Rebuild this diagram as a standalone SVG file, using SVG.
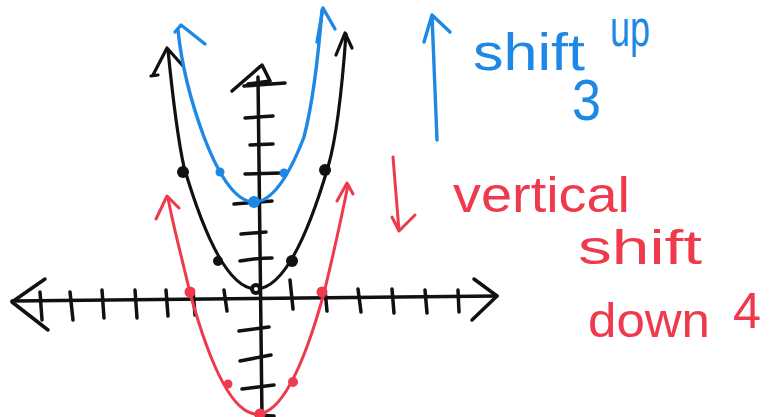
<svg xmlns="http://www.w3.org/2000/svg" width="776" height="417" viewBox="0 0 776 417">
<style>
.ax{fill:none;stroke:#111;stroke-width:3.5;stroke-linecap:round;stroke-linejoin:round}
.bk{fill:none;stroke:#111;stroke-width:3.2;stroke-linecap:round;stroke-linejoin:round}
.bl{fill:none;stroke:#1E88E5;stroke-width:3.4;stroke-linecap:round;stroke-linejoin:round}
.rd{fill:none;stroke:#EE3A4C;stroke-width:3;stroke-linecap:round;stroke-linejoin:round}
.tb{fill:#1E88E5;font-family:"Liberation Sans",Arial,sans-serif}
.tr{fill:#EE3A4C;font-family:"Liberation Sans",Arial,sans-serif}
</style>
<rect width="776" height="417" fill="#fff"/>
<g id="axes">
<path class="ax" d="M12,301 L497,296"/>
<path class="ax" d="M45,279 L12,302 L48,330"/>
<path class="ax" d="M474,279 L497,296 L472,320"/>
<path class="ax" d="M258,77 L262,417"/>
<path class="ax" d="M232,91 L262,65 L270,81 L248,84"/>
<g id="xticks">
<path class="ax" d="M40,292 L42,320 M70,292 L73,320 M102,290 L104,318 M135,290 L137,318 M166,290 L168,316 M193,290 L195,315 M224,290 L227,311 M290,280 L293,309 M325,290 L327,311 M358,289 L361,312 M392,289 L394,313 M425,290 L427,313 M458,290 L459,312"/>
</g>
<g id="yticks">
<path class="ax" d="M244,86 L285,83 M245,118 L273,116 M250,145 L273,144 M245,174 L281,173 M234,204 L272,201 M241,234 L266,232 M240,261 Q258,258 272,258 M239,331 L269,327 M240,361 L271,355 M242,389 L274,385 M256,415 L274,416"/>
</g>
</g>
<g id="parabola-black">
<path class="bk" d="M168,50 C172,90 178,140 184,167 Q256,411 328,167 C336,140 342,90 346,34"/>
<path class="bk" d="M151,76 L158,75 M153,75 L167,48 L183,66"/>
<path class="bk" d="M336,55 L345,33 L352,48"/>
<circle cx="183" cy="172" r="6" fill="#111"/>
<circle cx="325" cy="170" r="6" fill="#111"/>
<circle cx="218" cy="261" r="5" fill="#111"/>
<circle cx="292" cy="261" r="6" fill="#111"/>
<circle cx="256" cy="289" r="6" fill="#111"/>
<circle cx="256" cy="289" r="2" fill="#fff"/>
</g>
<g id="parabola-blue">
<path class="bl" d="M178,30 C182,70 194,110 204,137 Q254,267 304,137 C311,110 318,60 322,10"/>
<path class="bl" d="M175,32 L181,25 L205,44"/>
<path class="bl" d="M317,42 L323,8 L335,29"/>
<circle cx="220" cy="172" r="4.5" fill="#1E88E5"/>
<circle cx="284" cy="173" r="4.5" fill="#1E88E5"/>
<circle cx="254" cy="202" r="6" fill="#1E88E5"/>
</g>
<g id="parabola-red">
<path class="rd" d="M168,198 C174,230 183,262 190,293 Q257,535 324,293 C331,264 340,225 348,185"/>
<path class="rd" d="M156,219 L167,196 L179,208"/>
<path class="rd" d="M337,201 L347,183 L353,194"/>
<circle cx="190" cy="292" r="5.5" fill="#EE3A4C"/>
<circle cx="322" cy="292" r="5.5" fill="#EE3A4C"/>
<circle cx="228" cy="384" r="4.5" fill="#EE3A4C"/>
<circle cx="293" cy="382" r="5" fill="#EE3A4C"/>
<circle cx="260" cy="414" r="5.5" fill="#EE3A4C"/>
</g>
<g id="label-up">
<path class="bl" d="M437,140 L432,15 M424,42 L432,15 L450,32"/>
<text class="tb" font-size="52"><tspan x="473" y="70" textLength="112" lengthAdjust="spacingAndGlyphs">shift</tspan><tspan x="610" y="46" textLength="40" lengthAdjust="spacingAndGlyphs">up</tspan></text>
<text class="tb" x="572" y="120" font-size="58" textLength="29" lengthAdjust="spacingAndGlyphs">3</text>
</g>
<g id="label-down">
<path class="rd" d="M393,157 L399,231 M392,217 L399,231 L415,215"/>
<text class="tr" x="453" y="212" font-size="50" textLength="177" lengthAdjust="spacingAndGlyphs">vertical</text>
<text class="tr" x="578" y="264" font-size="48" textLength="124" lengthAdjust="spacingAndGlyphs">shift</text>
<text class="tr" x="588" y="337" font-size="48" textLength="122" lengthAdjust="spacingAndGlyphs">down</text>
<text class="tr" x="733" y="328" font-size="50" textLength="28" lengthAdjust="spacingAndGlyphs">4</text>
</g>
</svg>
